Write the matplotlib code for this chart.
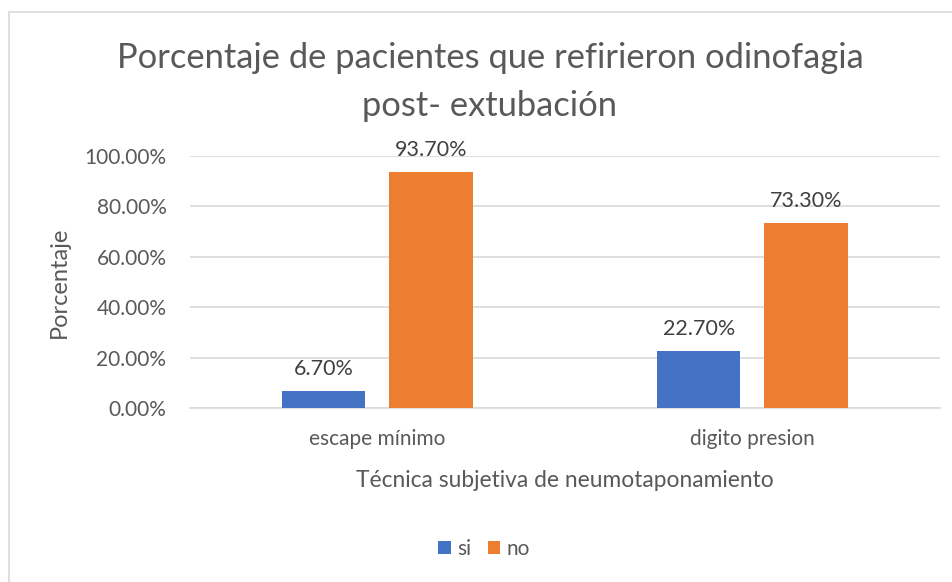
import matplotlib.pyplot as plt
from matplotlib.patches import Rectangle
from matplotlib.ticker import FuncFormatter

categories = ['escape mínimo', 'digito presion']
si_values = [6.7, 22.7]
no_values = [93.7, 73.3]
series_names = ['si', 'no']
title_lines = ['Porcentaje de pacientes que refirieron odinofagia', 'post- extubación']

plt.rcParams['font.family'] = ['Lato', 'DejaVu Sans']
grey = '#595959'

fig = plt.figure(figsize=(9.53, 5.82), dpi=100)
W, H = 953, 582
ax = fig.add_axes([190 / W, 1 - 408 / H, 750 / W, (408 - 156) / H])

# outer chart border (right/bottom run off the image)
fig.patches.append(Rectangle((9 / W, -0.1), 1.2, 1 - 12 / H + 0.1, transform=fig.transFigure,
                             fill=False, edgecolor='#d9d9d9', linewidth=1.2))

x = [0.5, 1.5]
w = 0.222
off = 0.143
b1 = ax.bar([v - off for v in x], si_values, w, color='#4472c4', label=series_names[0], zorder=3)
b2 = ax.bar([v + off for v in x], no_values, w, color='#ed7d31', label=series_names[1], zorder=3)

# data labels above each bar
for bars, vals in ((b1, si_values), (b2, no_values)):
    for b, v in zip(bars, vals):
        ax.text(b.get_x() + b.get_width() / 2, v + 6.3, f'{v:.2f}%', ha='center', va='baseline',
                fontsize=15.5, color='#404040', clip_on=False)

ax.set_xlim(0, 2)
ax.set_ylim(0, 100)
ax.set_yticks(range(0, 101, 20))
ax.yaxis.set_major_formatter(FuncFormatter(lambda v, p: f'{v:.2f}%'))
ax.set_xticks(x)
ax.set_xticklabels(categories)
ax.grid(axis='y', color='#d9d9d9', linewidth=1.2, zorder=0)
for s in ('top', 'right', 'left'):
    ax.spines[s].set_visible(False)
ax.spines['bottom'].set_color('#d9d9d9')
ax.spines['bottom'].set_linewidth(1.2)
ax.tick_params(length=0, labelsize=15, colors=grey)
ax.tick_params(axis='y', pad=17)
ax.tick_params(axis='x', pad=15)
ax.set_ylabel('Porcentaje', fontsize=17, color=grey, labelpad=10)
ax.set_xlabel('Técnica subjetiva de neumotaponamiento', fontsize=16.4, color=grey, labelpad=15)

fig.text(490 / W, 1 - 68 / H, title_lines[0], ha='center', va='baseline', fontsize=24.8, color=grey)
fig.text(490 / W, 1 - 116 / H, title_lines[1], ha='center', va='baseline', fontsize=24.8, color=grey)

fig.legend(loc='center', bbox_to_anchor=(484 / W, 1 - 549 / H), ncol=2, frameon=False,
           fontsize=15, handlelength=0.6, handleheight=0.6, handletextpad=0.3, columnspacing=0.8,
           labelcolor=grey)

fig.savefig('out.png', dpi=100)
